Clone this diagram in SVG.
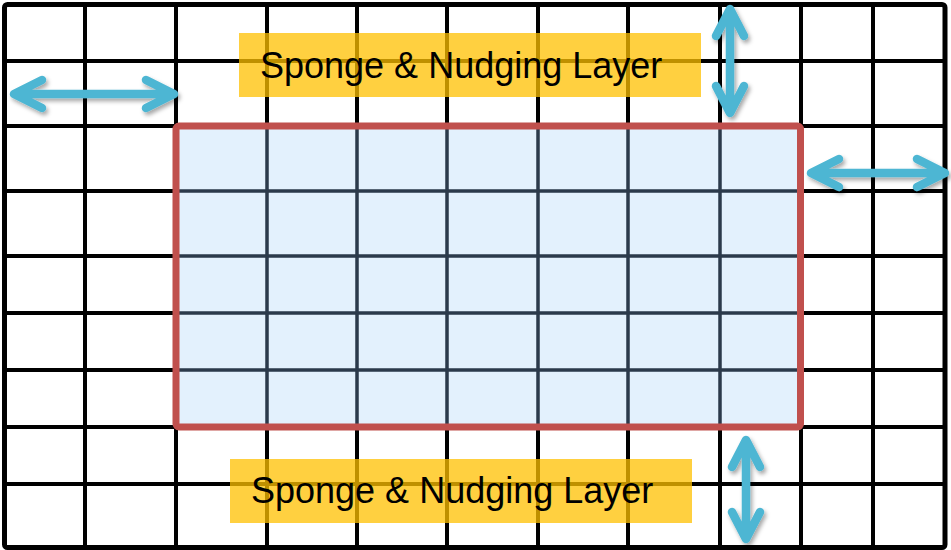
<svg xmlns="http://www.w3.org/2000/svg" width="951" height="550" viewBox="0 0 951 550">
  <defs>
    <style>
      .grid { stroke: #000000; stroke-width: 4; fill: none; }
      .inner { stroke: #2B3A4B; stroke-width: 3.5; fill: none; }
      .label-box { fill: #FFC000; fill-opacity: 0.75; }
      .label { font-family: "Liberation Sans", Arial, sans-serif; font-size: 36px; fill: #000000; }
      .arrow { stroke: #4DB6D3; stroke-width: 8.5; stroke-linecap: round; stroke-linejoin: round; fill: none; }
    </style>
    <filter id="shadow" x="-20%" y="-20%" width="140%" height="140%">
      <feDropShadow dx="2" dy="3" stdDeviation="2" flood-color="#000000" flood-opacity="0.35"/>
    </filter>
  </defs>
  <rect x="0" y="0" width="951" height="550" fill="#FFFFFF"/>

  <g id="outer-grid">
    <g class="grid">
      <path d="M85,4V547 M176,4V547 M267,4V547 M357,4V547 M447,4V547 M538,4V547 M628,4V547 M720,4V547 M801,4V547 M873,4V547"/>
      <path d="M4,61H945 M4,126H945 M4,191H945 M4,256H945 M4,313H945 M4,370H945 M4,427H945 M4,484H945"/>
    </g>
    <rect x="4.5" y="4.5" width="940.5" height="543" rx="3" fill="none" stroke="#000000" stroke-width="5"/>
  </g>

  <g id="domain">
    <rect x="176" y="126" width="624.5" height="301" fill="#E3F1FD"/>
    <path class="inner" d="M267,126V427 M357,126V427 M447,126V427 M538,126V427 M628,126V427 M720,126V427 M176,191H800 M176,256H800 M176,313H800 M176,370H800"/>
    <rect x="176" y="126" width="624.5" height="301" rx="3" fill="none" stroke="#C0504D" stroke-width="7"/>
  </g>

  <g id="label-top">
    <rect class="label-box" x="239" y="33" width="462" height="64"/>
    <text class="label" x="260" y="78">Sponge &amp; Nudging Layer</text>
  </g>

  <g id="label-bottom">
    <rect class="label-box" x="230" y="459" width="462" height="64"/>
    <text class="label" x="251" y="503">Sponge &amp; Nudging Layer</text>
  </g>

  <g id="connectors" filter="url(#shadow)">
    <path class="arrow" d="M16,94H172 M42,80L14,94L42,108 M146,80L174,94L146,108"/>
    <path class="arrow" d="M730,11V111 M716,36L730,9L744,36 M716,86L730,113L744,86"/>
    <path class="arrow" d="M812,173H944 M839,159L811,173L839,187 M917,159L945,173L917,187"/>
    <path class="arrow" d="M746,441V538 M732,467L746,440L760,467 M732,512L746,539L760,512"/>
  </g>
</svg>
